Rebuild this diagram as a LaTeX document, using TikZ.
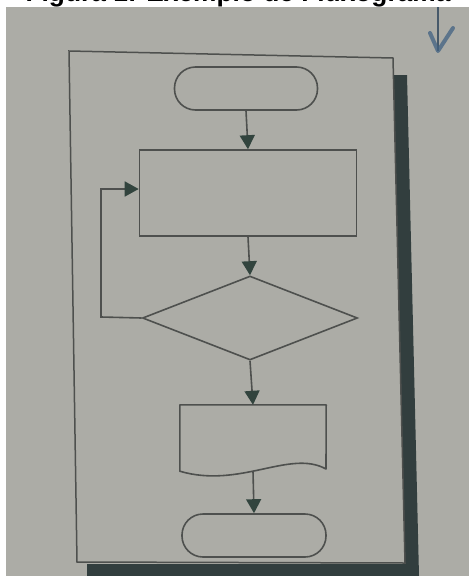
\documentclass[tikz,border=0pt]{standalone}
\usepackage{fontspec}
\setmainfont{Liberation Sans}
\usetikzlibrary{shapes.geometric,arrows.meta}
\definecolor{paper}{RGB}{172,172,166}
\definecolor{ink}{RGB}{78,80,78}
\definecolor{tipink}{RGB}{50,68,62}
\definecolor{shadowtone}{RGB}{50,62,62}
\definecolor{pen}{RGB}{66,98,130}
\begin{document}
\begin{tikzpicture}[x=1pt,y=-1pt,
  line/.style={draw=ink,line width=1.6pt},
  flow/.style={line,-{Triangle[width=15pt,length=14pt,color=tipink]}},
  term/.style={line,rectangle,rounded corners=21pt,minimum width=143pt,minimum height=43pt,inner sep=0pt},
  procbox/.style={line,rectangle,minimum width=217pt,minimum height=86pt,inner sep=0pt},
  decision/.style={line,diamond,minimum width=215pt,minimum height=84pt,inner sep=0pt},
  docbox/.style={rectangle,minimum width=146pt,minimum height=66pt,inner sep=0pt}]
\useasboundingbox (0,0) rectangle (469,576);
\clip (0,0) rectangle (469,576);
\fill[white] (0,0) rectangle (469,576);
% caption, cut by the top edge
\node[font=\bfseries\fontsize{26.3}{30}\selectfont,anchor=base,inner sep=0pt] (title) at (238,1.5) {Figura 1: Exemplo de Fluxograma};
\fill[paper] (6,7) rectangle (469,576);
% page frame and its shadow
\coordinate (tl) at (69,51);
\coordinate (tr) at (393,58);
\coordinate (br) at (405,563);
\coordinate (bl) at (77,562);
\fill[shadowtone] (393.5,75) -- (407,75) -- (419,576) -- (87,576) -- (87,564) -- (405,564) -- cycle;
\draw[ink,line width=1.5pt] (tl) -- (tr) -- (br) -- (bl) -- cycle;
% pen mark
\coordinate (pentop) at (438,7);
\coordinate (pentip) at (438,51);
\draw[pen!70!black,line width=2.5pt,opacity=0.8] (pentop) -- (pentip);
\draw[pen,line width=4pt,opacity=0.75,line cap=round,line join=round] (430,33) -- (pentip) -- (453,28);
% flowchart
\node[term] (start) at (246,88.5) {};
\node[procbox] (proc) at (248,193) {};
\node[decision] (dec) at (250,318) {};
\node[docbox] (doc) at (253,438) {};
\node[term,minimum width=144pt] (stop) at (254,535.5) {};
\draw[line,line join=round] (doc.north west) -- (doc.north east) -- (326,469)
  .. controls (290,449) and (240,489) .. (doc.south west) -- cycle;
\coordinate (loop) at (101,317);
\draw[flow] (start.south) -- (proc.north);
\draw[flow] (proc.south) -- (dec.north);
\draw[flow] (dec.south) -- (doc.north);
\draw[flow] (doc.south) -- (stop.north);
\draw[flow] (dec.west) -- (loop) |- ([yshift=4pt]proc.west);
\end{tikzpicture}
\end{document}
